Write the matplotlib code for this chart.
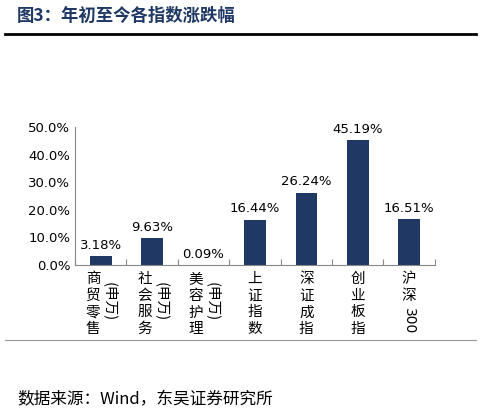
import matplotlib.pyplot as plt
from matplotlib.lines import Line2D

plt.rcParams['font.family'] = ['Noto Sans CJK SC', 'DejaVu Sans']

names = ["商贸零售", "社会服务", "美容护理", "上证指数", "深证成指", "创业板指", "沪深300"]
suffix = ["(申万)", "(申万)", "(申万)", "", "", "", ""]
values = [3.18, 9.63, 0.09, 16.44, 26.24, 45.19, 16.51]
labels = ["3.18%", "9.63%", "0.09%", "16.44%", "26.24%", "45.19%", "16.51%"]

navy = "#1F3864"
fig = plt.figure(figsize=(4.81, 4.16), dpi=100)
ax = fig.add_axes([0.156, 0.363, 0.748, 0.332])

x = range(len(values))
ax.bar(x, values, width=0.42, color=navy)
for xi, v, lab in zip(x, values, labels):
    ax.text(xi, v + 1.5, lab, ha='center', va='bottom', fontsize=9.5, family=['DejaVu Sans'])

ax.set_ylim(0, 50)
ax.set_xlim(-0.5, len(values) - 0.5)
ax.set_yticks(range(0, 51, 10))
ax.set_yticklabels([f"{v:.1f}%" for v in range(0, 51, 10)], fontsize=9.5, family=['DejaVu Sans'])
ax.set_xticks([i + 0.5 for i in range(-1, len(values))])
ax.set_xticklabels([])
ax.tick_params(axis='x', length=4, direction='in', color='#888888')
ax.tick_params(axis='y', length=0)
for s in ['top', 'right']:
    ax.spines[s].set_visible(False)
ax.spines['left'].set_color('#888888')
ax.spines['bottom'].set_color('#888888')

tr = ax.get_xaxis_transform()
for xi, n, suf in zip(x, names, suffix):
    if n.endswith("300"):
        ax.text(xi, -0.05, "沪\n深", transform=tr, ha='center', va='top', fontsize=10.5, linespacing=1.25)
        ax.text(xi, -0.31, "300", transform=tr, ha='center', va='top',
                fontsize=10, rotation=270, family=['DejaVu Sans'])
        continue
    off = -0.15 if suf else 0
    ax.text(xi + off, -0.05, "\n".join(n), transform=tr, ha='center', va='top',
            fontsize=10.5, linespacing=1.25)
    if suf:
        ax.text(xi + 0.18, -0.12, suf, transform=tr, ha='center', va='top',
                fontsize=10.5, rotation=270)

fig.text(0.035, 0.962, "图3：年初至今各指数涨跌幅", fontsize=12.5, fontweight='bold', color=navy, va='center')
fig.add_artist(Line2D([0.01, 0.99], [0.918, 0.918], color='black', lw=2))
fig.add_artist(Line2D([0.01, 0.99], [0.183, 0.183], color='#999999', lw=0.8))
fig.text(0.035, 0.038, "数据来源：Wind，东吴证券研究所", fontsize=12, va='center')

fig.savefig("out.png", dpi=100)
